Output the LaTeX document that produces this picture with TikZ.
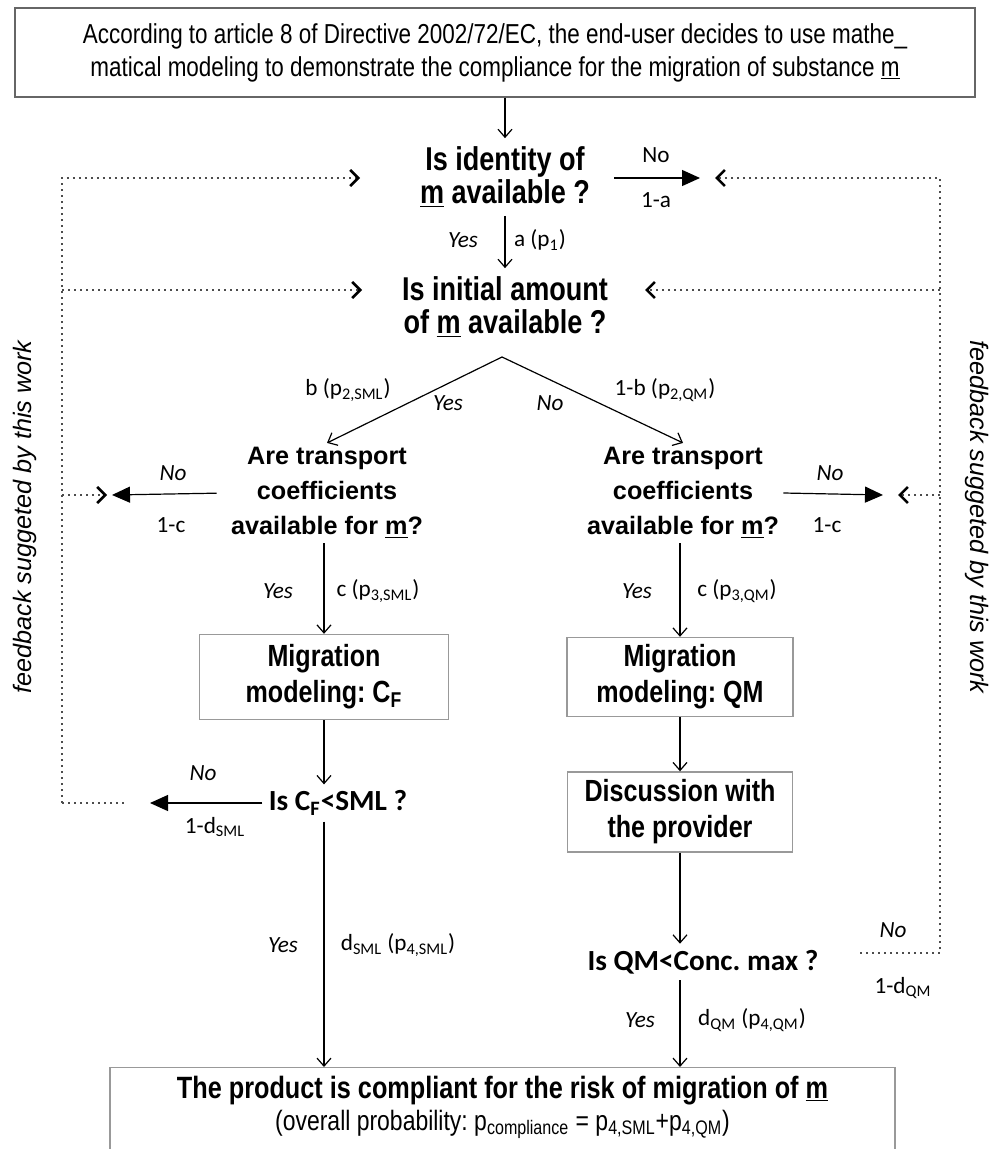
\documentclass[tikz,border=0pt]{standalone}
\usepackage{fontspec}
\setmainfont{Liberation Sans}
\newfontfamily\narrowfont{Liberation Sans}[FakeStretch=0.82]
\newfontfamily\califont{Carlito}
\usetikzlibrary{arrows.meta,positioning,calc}
\frenchspacing

\tikzset{
  flow/.style={-{Straight Barb[length=4pt,width=7pt]}, line width=0.6pt},
  nobranch/.style={-{Triangle[length=9pt,width=8pt]}, line width=0.6pt},
  feedback/.style={dash pattern=on 0.8pt off 2.2pt, line width=0.7pt, black!70},
  fbtip/.style={-{Straight Barb[length=4pt,width=8pt,line width=1.3pt,color=black]}},
  introbox/.style={draw=black!60, line width=0.7pt, align=center,
    minimum width=480pt, minimum height=44.5pt,
    font={\narrowfont\fontsize{13.7}{16.5}\selectfont}},
  qnarrow/.style={align=center, inner sep=4pt,
    font={\narrowfont\bfseries\fontsize{16.5}{16.5}\selectfont}},
  qwide/.style={align=center, inner sep=2pt,
    font={\bfseries\fontsize{12.6}{17.5}\selectfont}},
  qcal/.style={inner sep=3pt, font={\califont\bfseries\fontsize{14.6}{16}\selectfont}},
  modelbox/.style={draw=black!40, line width=0.7pt, align=center,
    font={\narrowfont\bfseries\fontsize{15.3}{18}\selectfont}},
  resultbox/.style={draw=black!40, line width=0.7pt, align=center, anchor=north,
    minimum width=392.5pt, inner ysep=4pt, text depth=30pt,
    font={\narrowfont\fontsize{14}{16}\selectfont}},
  lab/.style={inner sep=1pt, font={\califont\fontsize{11.6}{13}\selectfont}},
  ans/.style={inner sep=1pt, font={\califont\itshape\fontsize{11.6}{13}\selectfont}},
  side/.style={font={\itshape\fontsize{12.6}{14}\selectfont}}
}

\begin{document}
\begin{tikzpicture}[x=0.5pt,y=-0.5pt]
  \useasboundingbox (0,0) rectangle (991,1149);

  % Boxes and questions
  \node[introbox] (intro) at (495,52.5)
    {According to article 8 of Directive 2002/72/EC, the end-user decides to use mathe\_\\
     matical modeling to demonstrate the compliance for the migration of substance \underline{m}};
  \node[qnarrow] (qid) at (505,177) {Is identity of\\\underline{m} available ?};
  \node[qnarrow] (qamount) at (505,307) {Is initial amount\\of \underline{m} available ?};
  \node[qwide] (qtrl) at (327,493) {Are transport\\coefficients\\available for \underline{m}?};
  \node[qwide] (qtrr) at (683,493) {Are transport\\coefficients\\available for \underline{m}?};
  \node[modelbox, minimum width=124.5pt, minimum height=42.5pt] (migl) at (324,677)
    {Migration\\modeling: C\textsubscript{F}};
  \node[modelbox, minimum width=113pt, minimum height=39.5pt] (migr) at (680,677)
    {Migration\\modeling: QM};
  \node[modelbox, minimum width=112.5pt, minimum height=40pt] (disc) at (680,812)
    {Discussion with\\the provider};
  \node[qcal] (qsml) at (338,803) {Is C\textsubscript{F}<SML ?};
  \node[qcal] (qqm) at (703,962) {Is QM<Conc. max ?};
  \node[resultbox] (result) at (502.5,1067)
    {{\bfseries\fontsize{15.4}{16}\selectfont The product is compliant for the risk of migration of \underline{m}}\\
     (overall probability: p\textsubscript{compliance} = p\textsubscript{4,SML}+p\textsubscript{4,QM})};

  % Free ends
  \coordinate (apex) at (502,357);
  \coordinate (noA) at (700,178);
  \coordinate (noCl) at (112,495);
  \coordinate (noCr) at (883,495);
  \coordinate (noD) at (150,803);
  \coordinate (noE) at (860,953);
  \coordinate (fbIdL) at (360,178);
  \coordinate (fbAmL) at (362,290);
  \coordinate (fbAmR) at (645,290);
  \coordinate (fbLt) at (62,178);
  \coordinate (fbLb) at (62,803);
  \coordinate (fbRt) at (940,178);
  \coordinate (fbRb) at (940,953);

  % Main flow
  \draw[flow] (intro.south -| qid.north) -- (qid.north);
  \draw[flow] (qid) -- (qamount);
  \draw[nobranch, shorten <=8pt] (qid.east |- noA) -- (noA);
  \draw[flow] (apex) -- (qtrl.north);
  \draw[flow] (apex) -- (qtrr.north);
  \draw[nobranch, shorten <=5pt] (qtrl.west) -- (noCl);
  \draw[nobranch] (qtrr.east) -- (noCr);
  \draw[flow] (qtrl.south -| migl.north) -- (migl.north);
  \draw[flow] (qtrr.south -| migr.north) -- (migr.north);
  \draw[flow] (migl.south) -- (qsml.north -| migl.south);
  \draw[flow] (migr) -- (disc);
  \draw[flow] (disc.south) -- (qqm.north -| disc.south);
  \draw[nobranch] (qsml.west) -- (noD);
  \draw[flow] (qsml.south -| migl.south) -- (result.north -| migl.south);
  \draw[flow] (qqm.south -| disc.south) -- (result.north -| disc.south);

  % Feedback
  \draw[feedback, fbtip] (fbLb) -- (fbLt) -- (fbIdL);
  \draw[feedback, fbtip] (fbLt |- fbAmL) -- (fbAmL);
  \draw[feedback, fbtip, shorten >=2.5pt] (fbLt |- noCl) -- (noCl);
  \draw[feedback, shorten >=11.5pt] (fbLb) -- (noD);
  \draw[feedback, fbtip, shorten >=7.5pt] (noE) -- (fbRb) -- (fbRt) -- (noA);
  \draw[feedback, fbtip] (fbRt |- fbAmR) -- (fbAmR);
  \draw[feedback, fbtip, shorten >=7.5pt] (fbRt |- noCr) -- (noCr);
  \node[side, rotate=90] (fbtextl) at (25,517) {feedback suggeted by this work};
  \node[side, rotate=-90] (fbtextr) at (977,517) {feedback suggeted by this work};

  % Branch labels
  \node[lab] (noAl) at (656,155) {No};
  \node[lab] (oneA) at (656,200) {1-a};
  \node[ans] (yesA) at (463,240) {Yes};
  \node[lab] (pA) at (540,240) {a (p\textsubscript{1})};
  \node[lab] (pBl) at (348,390) {b (p\textsubscript{2,SML})};
  \node[ans] (yesB) at (448,403) {Yes};
  \node[ans] (noB) at (550,403) {No};
  \node[lab] (pBr) at (665,390) {1-b (p\textsubscript{2,QM})};
  \node[ans] (noCll) at (173,473) {No};
  \node[lab] (oneCl) at (171,525) {1-c};
  \node[ans] (noCrl) at (830,473) {No};
  \node[lab] (oneCr) at (827,525) {1-c};
  \node[ans] (yesCl) at (278,591) {Yes};
  \node[lab] (pCl) at (378,591) {c (p\textsubscript{3,SML})};
  \node[ans] (yesCr) at (637,591) {Yes};
  \node[lab] (pCr) at (737,591) {c (p\textsubscript{3,QM})};
  \node[ans] (noDl) at (203,773) {No};
  \node[lab] (oneD) at (215,827) {1-d\textsubscript{SML}};
  \node[ans] (yesD) at (283,945) {Yes};
  \node[lab] (pD) at (398,945) {d\textsubscript{SML} (p\textsubscript{4,SML})};
  \node[ans] (noEl) at (893,930) {No};
  \node[lab] (oneE) at (903,988) {1-d\textsubscript{QM}};
  \node[ans] (yesE) at (640,1020) {Yes};
  \node[lab] (pE) at (752,1020) {d\textsubscript{QM} (p\textsubscript{4,QM})};
\end{tikzpicture}
\end{document}
